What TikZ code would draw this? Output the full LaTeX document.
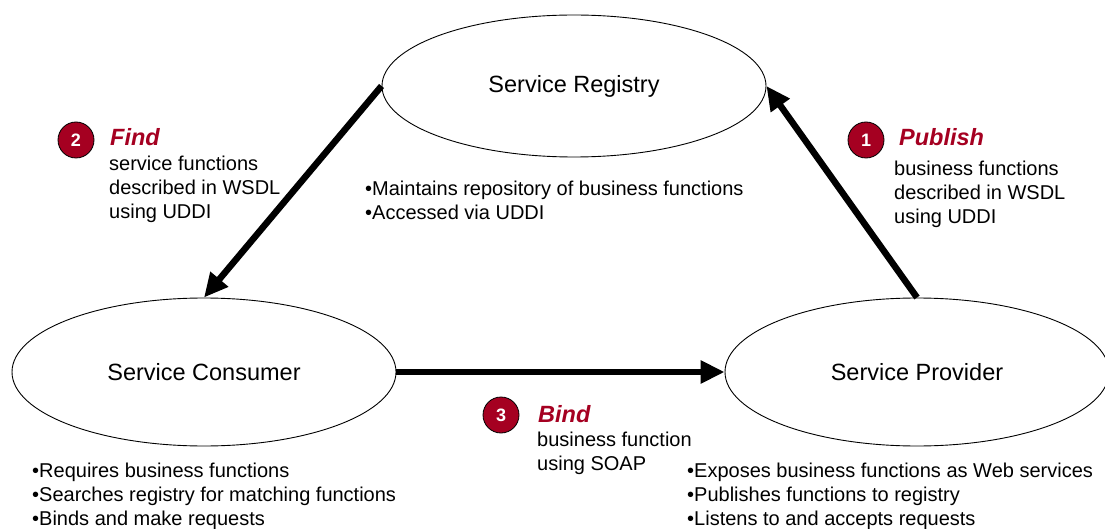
\documentclass[tikz,border=0pt]{standalone}
\usepackage{fontspec}
\setmainfont{Liberation Sans}
\usetikzlibrary{shapes.geometric,arrows.meta}
\definecolor{badgered}{HTML}{A50021}
\tikzset{
  svc/.style={draw,ellipse,line width=0.9pt,inner sep=0pt,minimum width=384pt,minimum height=148pt,font=\fontsize{23.5}{28}\selectfont},
  flow/.style={line width=6.5pt,-{Triangle[length=24pt,width=22pt]}},
  badge/.style={circle,draw=black,line width=0.8pt,fill=badgered,text=white,minimum size=36pt,inner sep=0pt,font=\fontsize{18}{20}\selectfont\bfseries},
  verb/.style={anchor=base west,inner sep=0pt,text=badgered,font=\fontsize{23.5}{28}\selectfont\bfseries\itshape},
  desc/.style={anchor=base west,inner sep=0pt,align=left,font=\fontsize{20}{24}\selectfont},
}
\begin{document}
\begin{tikzpicture}[x=1pt,y=-1pt]
\useasboundingbox[fill=white] (0,0) rectangle (1105,529);
\node[svc,minimum height=142pt] (reg) at (574,86) {Service Registry};
\node[svc] (con) at (204,372) {Service Consumer};
\node[svc] (prov) at (917,372) {Service Provider};
\draw[flow] (reg.west) -- (con.north);
\draw[flow] (prov.north) -- (reg.east);
\draw[flow] (con.east) -- (prov.west);
% Find
\node[badge] (b2) at (76,140) {2};
\node[verb] (vfind) at (110,146) {Find};
\node[desc] (dfind) at (109,219) {service functions\\described in WSDL\\using UDDI};
% Publish
\node[badge] (b1) at (866,140) {1};
\node[verb] (vpub) at (899,146) {Publish};
\node[desc] (dpub) at (894,224) {business functions\\described in WSDL\\using UDDI};
% Bind
\node[badge] (b3) at (501,415) {3};
\node[verb] (vbind) at (538,422) {Bind};
\node[desc] (dbind) at (537,470) {business function\\using SOAP};
% bullets
\node[desc] (lreg) at (365,220) {•Maintains repository of business functions\\•Accessed via UDDI};
\node[desc] (lcon) at (32,525) {•Requires business functions\\•Searches registry for matching functions\\•Binds and make requests};
\node[desc] (lprov) at (687,525) {•Exposes business functions as Web services\\•Publishes functions to registry\\•Listens to and accepts requests};
\end{tikzpicture}
\end{document}
